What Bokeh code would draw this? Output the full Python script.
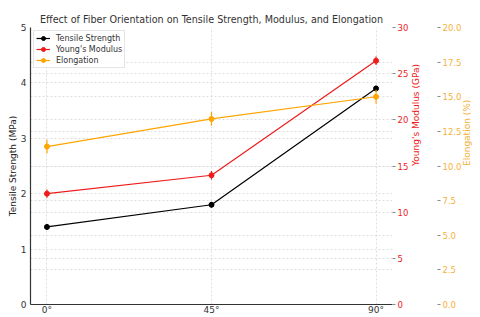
from bokeh.plotting import figure
from bokeh.models import (Range1d, LinearAxis, FixedTicker, SingleIntervalTicker, Grid,
                          Legend, LegendItem, ColumnDataSource, NumeralTickFormatter)
from bokeh.embed import file_html
from bokeh.resources import INLINE
import math

angles = [0, 45, 90]
angle_labels = ["0°", "45°", "90°"]
tensile = [1.4, 1.8, 3.9]
tensile_err = [0.05, 0.05, 0.05]
modulus = [12.0, 14.0, 26.4]
modulus_err = [0.45, 0.45, 0.45]
elongation = [11.4, 13.4, 15.0]
elongation_err = [0.5, 0.5, 0.5]

BLACK = "black"
RED = "#ee1c1c"
ORANGE = "#ffa500"
ORANGE_TXT = "#f4b23a"
FONT = "DejaVu Sans"
GRID = "#d6d6d6"

p = figure(width=480, height=317, x_range=Range1d(-4.5, 94.5), y_range=Range1d(0, 5),
           output_backend="svg", toolbar_location=None,
           min_border_left=30, min_border_right=87, min_border_top=27, min_border_bottom=0)
p.outline_line_color = None
p.extra_y_ranges = {"mod": Range1d(0, 30), "elo": Range1d(0, 20)}

p.title.text = "Effect of Fiber Orientation on Tensile Strength, Modulus, and Elongation"
p.title.align = "center"
p.title.text_font = FONT
p.title.text_font_style = "normal"
p.title.text_font_size = "9.6px"
p.title.text_color = "#333333"
p.title.standoff = 5

p.xgrid.ticker = FixedTicker(ticks=angles)
for g in [p.xgrid, p.ygrid]:
    g.grid_line_color = GRID
    g.grid_line_dash = "2 2"
    g.grid_line_width = 0.8
p.ygrid.ticker = SingleIntervalTicker(interval=1)
g2 = Grid(dimension=1, ticker=SingleIntervalTicker(interval=5), y_range_name="mod",
          grid_line_color=GRID, grid_line_dash="2 2", grid_line_width=0.8)
g3 = Grid(dimension=1, ticker=SingleIntervalTicker(interval=2.5), y_range_name="elo",
          grid_line_color=GRID, grid_line_dash="2 2", grid_line_width=0.8)
p.add_layout(g2)
p.add_layout(g3)

xa = p.xaxis[0]
xa.ticker = FixedTicker(ticks=angles)
xa.major_label_overrides = {a: l for a, l in zip(angles, angle_labels)}
xa.major_tick_out = 0
xa.major_tick_in = 0
xa.minor_tick_out = 0
xa.minor_tick_in = 0
xa.major_label_standoff = 0
xa.axis_line_color = "#333333"
xa.axis_line_width = 1.2
xa.major_label_text_font = FONT
xa.major_label_text_font_size = "9px"
xa.major_label_text_color = "#333333"

ya = p.yaxis[0]
ya.ticker = SingleIntervalTicker(interval=1)
ya.axis_label = "Tensile Strength (MPa)"
ya.axis_label_text_font = FONT
ya.axis_label_text_font_style = "normal"
ya.axis_label_text_font_size = "9px"
ya.axis_label_text_color = "#222222"
ya.axis_label_standoff = 0
ya.major_tick_out = 0
ya.major_tick_in = 0
ya.minor_tick_out = 0
ya.minor_tick_in = 0
ya.major_label_standoff = 4
ya.axis_line_color = "#333333"
ya.axis_line_width = 1.2
ya.major_label_text_font = FONT
ya.major_label_text_font_size = "9px"
ya.major_label_text_color = "#333333"

def right_axis(rname, ticker, label, color, standoff):
    ax = LinearAxis(y_range_name=rname, ticker=ticker, axis_label=label)
    ax.axis_line_color = None
    ax.major_tick_out = 3
    ax.major_tick_in = 0
    ax.minor_tick_out = 0
    ax.minor_tick_in = 0
    ax.major_tick_line_color = "#888888"
    ax.major_label_standoff = 2
    ax.major_label_text_font = FONT
    ax.major_label_text_font_size = "8.5px"
    ax.major_label_text_color = color
    ax.axis_label_text_font = FONT
    ax.axis_label_text_font_style = "normal"
    ax.axis_label_text_font_size = "9px"
    ax.axis_label_text_color = color
    ax.axis_label_standoff = standoff
    try:
        ax.axis_label_orientation = math.pi / 2
    except Exception:
        pass
    return ax

mod_ax = right_axis("mod", SingleIntervalTicker(interval=5), "Young's Modulus (GPa)", RED, 5)
p.add_layout(mod_ax, "right")
spacer = LinearAxis(y_range_name="mod", ticker=FixedTicker(ticks=[15]),
                    major_label_overrides={15: ""})
spacer.axis_line_color = None
spacer.major_tick_out = 8
spacer.major_tick_in = 0
spacer.minor_tick_out = 0
spacer.minor_tick_in = 0
spacer.major_tick_line_color = None
spacer.major_label_standoff = 0
p.add_layout(spacer, "right")
elo_ax = right_axis("elo", SingleIntervalTicker(interval=2.5), "Elongation (%)", ORANGE_TXT, 3)
elo_ax.formatter = NumeralTickFormatter(format="0.0")
p.add_layout(elo_ax, "right")

def series(vals, errs, color, rname):
    kw = {} if rname is None else {"y_range_name": rname}
    lo = [v - e for v, e in zip(vals, errs)]
    hi = [v + e for v, e in zip(vals, errs)]
    p.segment(x0=angles, y0=lo, x1=angles, y1=hi, line_color=color, line_width=1.2, **kw)
    ln = p.line(x=angles, y=vals, line_color=color, line_width=1.2, **kw)
    sc = p.scatter(x=angles, y=vals, size=5, fill_color=color, line_color=color, **kw)
    proxy = p.scatter(x="x", y="y", source=ColumnDataSource(data=dict(x=[], y=[])),
                      marker="dash", angle=math.pi / 2, size=10, line_color=color,
                      line_width=1.2, **kw)
    return [ln, sc, proxy]

r1 = series(tensile, tensile_err, BLACK, None)
r2 = series(modulus, modulus_err, RED, "mod")
r3 = series(elongation, elongation_err, ORANGE, "elo")

legend = Legend(items=[LegendItem(label="Tensile Strength", renderers=r1),
                       LegendItem(label="Young's Modulus", renderers=r2),
                       LegendItem(label="Elongation", renderers=r3)],
                location="top_left")
legend.label_text_font = FONT
legend.label_text_font_size = "8px"
legend.label_text_color = "#333333"
legend.glyph_width = 14
legend.glyph_height = 10
legend.label_height = 10
legend.label_standoff = 6
legend.spacing = 1
legend.padding = 2
legend.margin = 3
legend.border_line_color = "#cccccc"
legend.border_line_width = 0.8
legend.background_fill_alpha = 0.85
p.add_layout(legend)

open("out.html", "w").write(file_html(p, INLINE))
